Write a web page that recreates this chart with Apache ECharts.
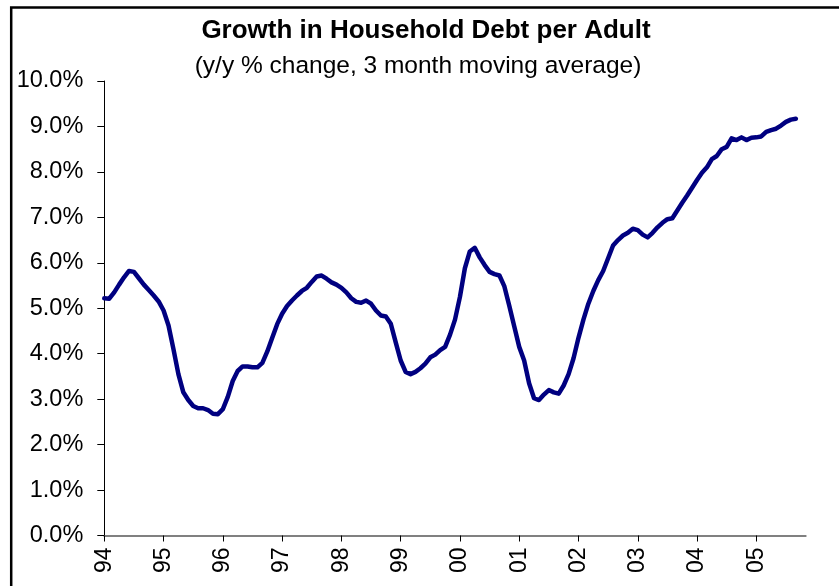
<!DOCTYPE html>
<html>
<head>
<meta charset="utf-8">
<script src="https://cdn.jsdelivr.net/npm/echarts@6/dist/echarts.min.js"></script>
<style>
  html, body { margin: 0; padding: 0; background: #fff; }
  #chart { width: 839px; height: 586px; }
</style>
</head>
<body>
<div id="chart"></div>
<script>
// Monthly household debt growth per adult, y/y % change (3-month moving average)
const startYear = 1994;
const monthCount = 143; // Jan 1994 .. Nov 2005 on the axis
const yearLabels = ['94','95','96','97','98','99','00','01','02','03','04','05'];
const yTicks = [0,1,2,3,4,5,6,7,8,9,10];

const debtGrowth = [
  5.22, 5.21, 5.35, 5.52, 5.68, 5.82, 5.80, 5.66, 5.52, 5.40, 5.28, 5.15,
  4.95, 4.62, 4.10, 3.55, 3.15, 2.98, 2.85, 2.80, 2.80, 2.76, 2.68, 2.67,
  2.78, 3.05, 3.40, 3.62, 3.72, 3.72, 3.70, 3.70, 3.80, 4.05, 4.35, 4.65,
  4.88, 5.05, 5.17, 5.28, 5.38, 5.45, 5.58, 5.70, 5.72, 5.65, 5.57, 5.52,
  5.45, 5.35, 5.22, 5.14, 5.12, 5.17, 5.10, 4.95, 4.84, 4.82, 4.66, 4.25,
  3.85, 3.60, 3.55, 3.60, 3.68, 3.78, 3.92, 3.98, 4.08, 4.15, 4.42, 4.75,
  5.25, 5.88, 6.25, 6.33, 6.12, 5.95, 5.80, 5.75, 5.72, 5.48, 5.05, 4.60,
  4.15, 3.85, 3.35, 3.02, 2.98, 3.10, 3.20, 3.15, 3.12, 3.30, 3.55, 3.90,
  4.35, 4.75, 5.10, 5.38, 5.62, 5.82, 6.10, 6.38, 6.50, 6.60, 6.66, 6.75,
  6.72, 6.62, 6.56, 6.66, 6.78, 6.88, 6.96, 6.98, 7.15, 7.32, 7.48, 7.65,
  7.82, 7.98, 8.10, 8.28, 8.35, 8.50, 8.55, 8.74, 8.70, 8.76, 8.70, 8.75,
  8.76, 8.78, 8.88, 8.92, 8.95, 9.02, 9.10, 9.15, 9.17
];

// Category axis: one entry per month, labelled only in January
const months = [];
for (let i = 0; i < monthCount; i++) {
  const y = startYear + Math.floor(i / 12);
  const m = (i % 12) + 1;
  months.push(y + '-' + String(m).padStart(2, '0'));
}
const seriesData = months.map((_, i) => (i < debtGrowth.length ? debtGrowth[i] : null));

const FONT = '"Liberation Sans", Arial, Helvetica, sans-serif';
const isJanuary = (idx) => idx % 12 === 0;

const chart = echarts.init(document.getElementById('chart'), null, { renderer: 'canvas' });
chart.setOption({
  animation: false,
  backgroundColor: '#ffffff',
  grid: { left: 104.3, right: 33.3, top: 81, bottom: 50.5, containLabel: false },
  xAxis: {
    type: 'category',
    data: months,
    boundaryGap: false,
    axisLine: { show: true, lineStyle: { color: '#808080', width: 2 } },
    axisTick: { show: true, length: 6, interval: (idx) => isJanuary(idx), lineStyle: { color: '#000', width: 1 } },
    axisLabel: {
      interval: (idx) => isJanuary(idx),
      formatter: (val, idx) => yearLabels[Math.floor(idx / 12)] || '',
      rotate: 90,
      margin: 12,
      color: '#000',
      fontFamily: FONT,
      fontSize: 23
    },
    splitLine: { show: false }
  },
  yAxis: {
    type: 'value',
    min: yTicks[0],
    max: yTicks[yTicks.length - 1],
    interval: 1,
    axisLine: { show: true, lineStyle: { color: '#000', width: 1 } },
    axisTick: { show: true, length: 7, lineStyle: { color: '#000', width: 1 } },
    axisLabel: {
      formatter: (v) => v.toFixed(1) + '%',
      margin: 21,
      color: '#000',
      fontFamily: FONT,
      fontSize: 23.5
    },
    splitLine: { show: false }
  },
  series: [{
    type: 'line',
    data: seriesData,
    showSymbol: false,
    smooth: false,
    lineStyle: { color: '#000080', width: 4.5, join: 'round', cap: 'round' },
    itemStyle: { color: '#000080' }
  }],
  graphic: [
    {
      type: 'rect',
      silent: true,
      shape: { x: 11.2, y: 7.5, width: 1000, height: 1000 },
      style: { fill: 'none', stroke: '#000', lineWidth: 2.5 }
    },
    {
      type: 'text',
      silent: true,
      style: {
        text: 'Growth in Household Debt per Adult',
        x: 426, y: 31,
        textAlign: 'center', textVerticalAlign: 'middle',
        font: 'bold 26px ' + FONT,
        fill: '#000'
      }
    },
    {
      type: 'text',
      silent: true,
      style: {
        text: '(y/y % change, 3 month moving average)',
        x: 418, y: 66,
        textAlign: 'center', textVerticalAlign: 'middle',
        font: '24.5px ' + FONT,
        fill: '#000'
      }
    }
  ]
});
</script>
</body>
</html>
